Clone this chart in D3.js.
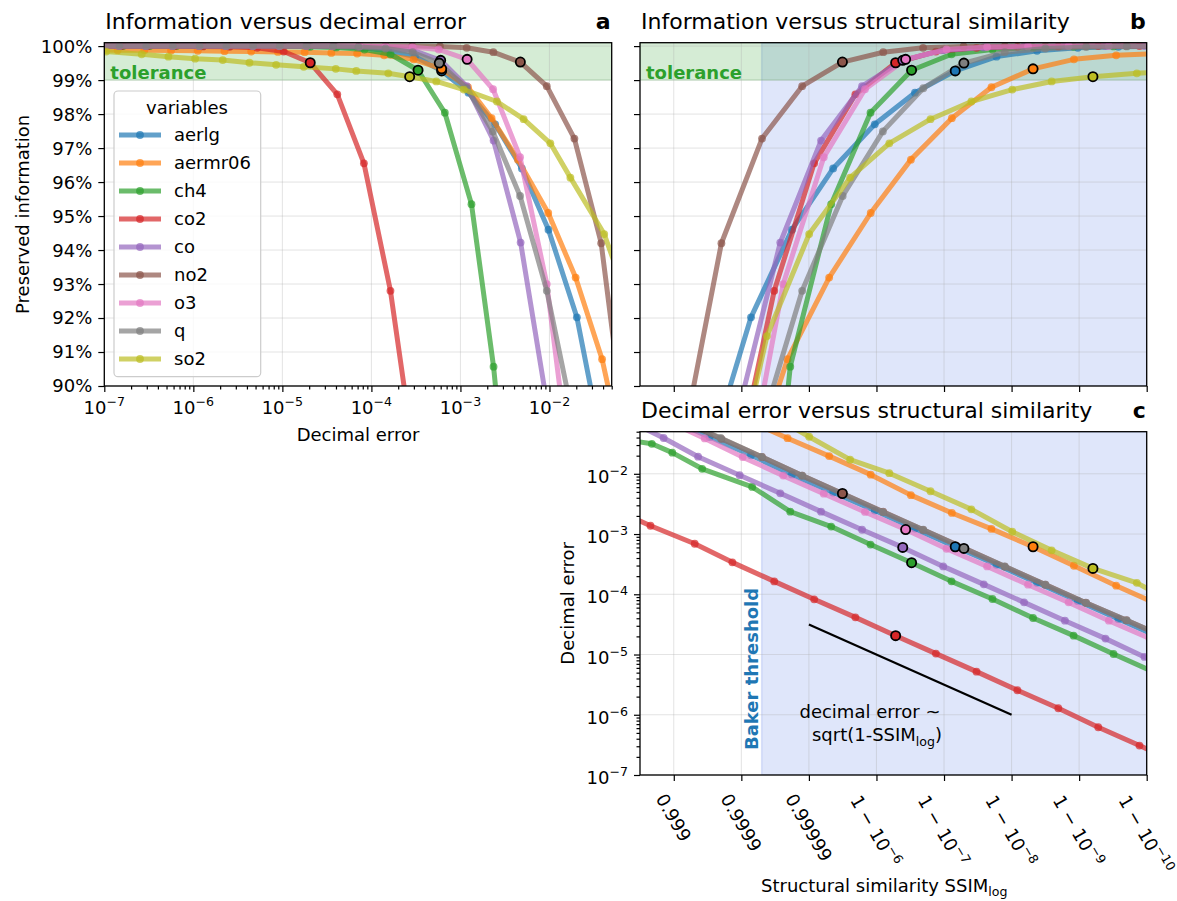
<!DOCTYPE html>
<html><head><meta charset="utf-8">
<script src="https://cdn.jsdelivr.net/npm/d3@7"></script>
<style>
body{margin:0;background:#fff;}
svg{font-family:"DejaVu Sans",sans-serif;}
</style></head><body>
<svg id="chart" width="1177" height="901"></svg>
<script>
// ---------------- data ----------------
const variables = ["aerlg","aermr06","ch4","co2","co","no2","o3","q","so2"];
const colors = ["#1f77b4","#ff7f0e","#2ca02c","#d62728","#9467bd","#8c564b","#e377c2","#7f7f7f","#bcbd22"];

// log10(decimal error), number of nines of SSIM_log (= -log10(1-SSIM)), preserved information (%)
const errLog_aerlg   = [-1.09,-1.39,-1.692,-2.011,-2.31,-2.61,-2.91,-3.211,-3.51,-3.81,-4.11,-4.41,-4.71,-5.01,-5.31,-5.61,-5.91,-6.21,-6.51,-6.81,-7.11];
const nines_aerlg    = [2.92,3.53,4.143,4.749,5.359,5.975,6.57,7.166,7.777,8.377,8.98,9.58,10.18,10.78,11.38,11.98,12.58,13.18,13.78,14.38,14.98];
const info_aerlg     = [80.0,88.0,92.02,94.60,96.40,97.70,98.63,99.27,99.69,99.86,99.95,99.98,99.99,100,100,100,100,100,100,100,100];

const errLog_aermr06 = [-0.80,-1.10,-1.409,-1.706,-2.014,-2.354,-2.65,-2.915,-3.211,-3.526,-3.857,-4.16,-4.45,-4.75,-5.05,-5.35,-5.65,-5.95,-6.25,-6.55,-6.85,-7.15];
const nines_aermr06  = [3.45,4.07,4.684,5.30,5.915,6.51,7.116,7.702,8.318,8.923,9.548,10.15,10.75,11.35,11.95,12.55,13.15,13.75,14.35,14.95,15.55,16.15];
const info_aermr06   = [80.0,87.1,90.79,93.19,95.09,96.66,97.88,98.79,99.33,99.61,99.73,99.78,99.80,99.82,99.83,99.84,99.85,99.86,99.87,99.88,99.88,99.89];

const errLog_ch4     = [-1.44,-1.502,-1.649,-1.917,-2.218,-2.628,-2.876,-3.175,-3.476,-3.785,-4.078,-4.394,-4.687,-4.991,-5.29,-5.59,-5.89,-6.19,-6.49,-6.79,-7.09];
const nines_ch4      = [2.30,2.675,2.978,3.42,4.16,4.724,5.33,5.912,6.52,7.111,7.717,8.318,8.918,9.509,10.1,10.7,11.3,11.9,12.5,13.1,13.7];
const info_ch4       = [50.0,60.0,65.0,72.0,79.7,90.57,95.35,98.04,99.29,99.76,99.90,99.96,99.98,99.99,100,100,100,100,100,100,100];

const errLog_co2     = [-2.56,-2.862,-3.161,-3.470,-3.786,-4.084,-4.383,-4.687,-4.985,-5.284,-5.593,-5.892,-6.207,-6.511,-6.81,-7.11];
const nines_co2      = [2.05,2.655,3.310,3.867,4.487,5.078,5.688,6.284,6.880,7.481,8.086,8.692,9.283,9.893,10.49,11.09];
const info_co2       = [60.0,70.0,78.5,87.0,92.8,96.55,98.58,99.51,99.84,99.95,99.98,99.99,100,100,100,100];

const errLog_co      = [-1.10,-1.406,-1.716,-2.023,-2.324,-2.628,-2.929,-3.222,-3.537,-3.835,-4.134,-4.438,-4.736,-5.04,-5.34,-5.64,-5.94,-6.24,-6.54,-6.84,-7.14];
const nines_co       = [2.30,2.85,3.36,3.975,4.576,5.18,5.787,6.389,6.988,7.589,8.185,8.79,9.39,9.967,10.57,11.17,11.77,12.37,12.97,13.57,14.17];
const info_co        = [70.0,78.0,84.0,89.4,94.22,97.22,98.82,99.58,99.88,99.96,99.99,100,100,100,100,100,100,100,100,100,100];

const errLog_no2     = [-0.80,-1.12,-1.419,-1.72,-2.03,-2.327,-2.63,-2.93,-3.23,-3.54,-3.84,-4.14,-4.43,-4.73,-5.03,-5.33,-5.63,-5.93,-6.23,-6.53,-6.83,-7.13];
const nines_no2      = [2.50,3.10,3.705,4.306,4.90,5.496,6.10,6.69,7.29,7.90,8.50,9.10,9.70,10.30,10.90,11.50,12.10,12.70,13.30,13.90,14.50,15.10];
const info_no2       = [75.0,88.0,94.2,97.28,98.82,99.53,99.82,99.95,99.99,100,100,100,100,100,100,100,100,100,100,100,100,100];

const errLog_o3      = [-1.10,-1.412,-1.723,-2.03,-2.33,-2.633,-2.925,-3.244,-3.537,-3.841,-4.134,-4.438,-4.73,-5.03,-5.33,-5.63,-5.93,-6.23,-6.53,-6.83,-7.13];
const nines_o3       = [2.86,3.458,4.02,4.62,5.22,5.83,6.432,7.037,7.638,8.244,8.845,9.44,10.04,10.64,11.24,11.84,12.44,13.04,13.64,14.24,14.84];
const info_o3        = [78.0,82.0,86.6,93.0,96.73,98.73,99.61,99.90,99.97,99.99,100,100,100,100,100,100,100,100,100,100,100];

const errLog_q       = [-1.10,-1.406,-1.718,-2.03,-2.33,-2.636,-2.929,-3.238,-3.537,-3.841,-4.145,-4.432,-4.73,-5.03,-5.33,-5.63,-5.93,-6.23,-6.53,-6.83,-7.13];
const nines_q        = [3.09,3.694,4.30,4.90,5.50,6.095,6.693,7.294,7.899,8.50,9.105,9.706,10.31,10.91,11.51,12.11,12.71,13.31,13.91,14.51,15.11];
const info_q         = [78.0,83.0,88.84,92.80,95.59,97.49,98.76,99.50,99.82,99.93,99.97,99.99,100,100,100,100,100,100,100,100,100];

const errLog_so2     = [-0.60,-0.98,-1.385,-1.765,-1.99,-2.29,-2.59,-2.962,-3.271,-3.570,-3.81,-4.17,-4.40,-4.76,-5.07,-5.37,-5.67,-5.98,-6.28,-6.58,-6.98,-7.28];
const nines_so2      = [3.75,4.38,5.004,5.61,6.19,6.80,7.405,8.01,8.593,9.204,9.854,10.45,11.05,11.65,12.25,12.85,13.45,14.05,14.65,15.25,15.85,16.45];
const info_so2       = [86.0,91.47,94.47,96.13,97.14,97.85,98.37,98.72,98.96,99.10,99.20,99.27,99.33,99.39,99.45,99.51,99.59,99.63,99.69,99.76,99.84,99.88];

// index of the chosen (highlighted) point of each variable
const selectedIndex = [7,8,8,7,7,5,6,7,9];

const infoTicks = [90,91,92,93,94,95,96,97,98,99,100];
const errTicks = [1e-7,1e-6,1e-5,1e-4,1e-3,1e-2];
const errTickExp = ["−7","−6","−5","−4","−3","−2"];
const ssimTicks = [1e-3,1e-4,1e-5,1e-6,1e-7,1e-8,1e-9,1e-10]; // 1 - SSIM
const ssimTickMain = ["0.999","0.9999","0.99999","1 − 10","1 − 10","1 − 10","1 − 10","1 − 10"];
const ssimTickSup  = ["","","","−6","−7","−8","−9","−10"];
const bakerThreshold = 0.99995;
const toleranceInfo = 99;
const refLineSsim = [1e-5, 1e-8];      // 1 - SSIM
const refLineErr  = [3.16e-5, 1e-6];

const errLogs = [errLog_aerlg,errLog_aermr06,errLog_ch4,errLog_co2,errLog_co,errLog_no2,errLog_o3,errLog_q,errLog_so2];
const ninesAll = [nines_aerlg,nines_aermr06,nines_ch4,nines_co2,nines_co,nines_no2,nines_o3,nines_q,nines_so2];
const infos = [info_aerlg,info_aermr06,info_ch4,info_co2,info_co,info_no2,info_o3,info_q,info_so2];

const series = variables.map((v,i)=>({
  name:v, color:colors[i], sel:selectedIndex[i],
  pts: errLogs[i].map((le,j)=>({err:Math.pow(10,le), oms:Math.pow(10,-ninesAll[i][j]), info:infos[i][j]}))
}));

// ---------------- layout ----------------
const svg = d3.select("#chart");
const A = {l:104.3, r:611.7, t:42.7, b:386};
const B = {l:640, r:1146.7, t:42.7, b:386};
const C = {l:640, r:1146.7, t:431.7, b:775};
const FS = 18, TFS = 22;

const xErr = d3.scaleLog().domain([1e-7, 0.05]).range([A.l, A.r]);
const yInfo = d3.scaleLinear().domain([90, 100.1]).range([A.b, A.t]);
const xSsim = d3.scaleLog().domain([Math.pow(10,-2.5), 1e-10]).range([B.l, B.r]);
const yErr = d3.scaleLog().domain([1e-7, 0.05]).range([C.b, C.t]);

const defs = svg.append("defs");
[["clipA",A],["clipB",B],["clipC",C]].forEach(([id,P])=>{
  defs.append("clipPath").attr("id",id).append("rect")
    .attr("x",P.l).attr("y",P.t).attr("width",P.r-P.l).attr("height",P.b-P.t);
});

const LW = 5, R = 3.9, OP = 0.7;

function panel(P, clipId, xs, ys, xKey, yKey, opts){
  const g = svg.append("g");
  const bg = g.append("g").attr("clip-path",`url(#${clipId})`);
  if(opts.blue){
    const bx = xs(1-bakerThreshold);
    bg.append("rect").attr("x",bx).attr("y",P.t).attr("width",P.r-bx).attr("height",P.b-P.t)
      .attr("fill","rgb(65,105,225)").attr("fill-opacity",0.17)
      .attr("stroke","rgb(65,105,225)").attr("stroke-opacity",0.17).attr("stroke-width",1.5);
  }
  if(opts.green){
    const gy = ys(toleranceInfo);
    bg.append("rect").attr("x",P.l).attr("y",P.t-2).attr("width",P.r-P.l).attr("height",gy-P.t+2)
      .attr("fill","#2ca02c").attr("fill-opacity",0.2)
      .attr("stroke","#2ca02c").attr("stroke-opacity",0.2).attr("stroke-width",1.2);
  }
  // grid
  const grid = g.append("g").attr("stroke","#b0b0b0").attr("stroke-opacity",0.35).attr("stroke-width",1);
  opts.xGrid.forEach(v=>grid.append("line").attr("x1",xs(v)).attr("x2",xs(v)).attr("y1",P.t).attr("y2",P.b));
  opts.yGrid.forEach(v=>grid.append("line").attr("y1",ys(v)).attr("y2",ys(v)).attr("x1",P.l).attr("x2",P.r));
  if(opts.extra) opts.extra(g);
  // data
  const dg = g.append("g").attr("clip-path",`url(#${clipId})`);
  const line = d3.line().x(d=>xs(d[xKey])).y(d=>ys(d[yKey]));
  series.forEach(s=>{
    dg.append("path").datum(s.pts).attr("d",line).attr("fill","none")
      .attr("stroke",s.color).attr("stroke-width",LW).attr("stroke-opacity",OP)
      .attr("stroke-linejoin","round");
    dg.selectAll(null).data(s.pts).enter().append("circle")
      .attr("cx",d=>xs(d[xKey])).attr("cy",d=>ys(d[yKey])).attr("r",R)
      .attr("fill",s.color).attr("fill-opacity",OP);
  });
  series.forEach(s=>{
    const d = s.pts[s.sel];
    dg.append("circle").attr("cx",xs(d[xKey])).attr("cy",ys(d[yKey])).attr("r",4.6)
      .attr("fill",s.color).attr("stroke","#000").attr("stroke-width",1.8);
  });
  // frame
  g.append("rect").attr("x",P.l).attr("y",P.t).attr("width",P.r-P.l).attr("height",P.b-P.t)
    .attr("fill","none").attr("stroke","#000").attr("stroke-width",1.3);
  return g;
}

function styleAxis(sel){
  sel.select(".domain").remove();
  sel.selectAll(".tick line").attr("stroke","#000").attr("stroke-width",1.2);
  sel.selectAll(".tick text").remove();
}
function minorLog(scale){
  const maj = new Set(scale.ticks().filter(v=>Math.abs(Math.log10(v)-Math.round(Math.log10(v)))<1e-9).map(v=>v.toExponential(3)));
  return scale.ticks().filter(v=>!maj.has(v.toExponential(3)));
}

// ---------------- panel a ----------------
const gA = panel(A,"clipA",xErr,yInfo,"err","info",{green:true,xGrid:errTicks,yGrid:infoTicks});
styleAxis(svg.append("g").attr("transform",`translate(0,${A.b})`).call(d3.axisBottom(xErr).tickValues(errTicks).tickSize(6).tickFormat("")));
styleAxis(svg.append("g").attr("transform",`translate(0,${A.b})`).call(d3.axisBottom(xErr).tickValues(minorLog(xErr)).tickSize(3.5).tickFormat("")));
styleAxis(svg.append("g").attr("transform",`translate(${A.l},0)`).call(d3.axisLeft(yInfo).tickValues(infoTicks).tickSize(6).tickFormat("")));

// ---------------- panel b ----------------
const gB = panel(B,"clipB",xSsim,yInfo,"oms","info",{green:true,blue:true,xGrid:ssimTicks,yGrid:infoTicks});
styleAxis(svg.append("g").attr("transform",`translate(0,${B.b})`).call(d3.axisBottom(xSsim).tickValues(ssimTicks).tickSize(6).tickFormat("")));
styleAxis(svg.append("g").attr("transform",`translate(${B.l},0)`).call(d3.axisLeft(yInfo).tickValues(infoTicks).tickSize(6).tickFormat("")));

// ---------------- panel c ----------------
const gC = panel(C,"clipC",xSsim,yErr,"oms","err",{blue:true,xGrid:ssimTicks,yGrid:errTicks,
  extra:(g)=>{
    const cg = g.append("g").attr("clip-path","url(#clipC)");
    cg.append("line").attr("x1",xSsim(refLineSsim[0])).attr("y1",yErr(refLineErr[0]))
      .attr("x2",xSsim(refLineSsim[1])).attr("y2",yErr(refLineErr[1]))
      .attr("stroke","#000").attr("stroke-width",2.2);
  }});
styleAxis(svg.append("g").attr("transform",`translate(0,${C.b})`).call(d3.axisBottom(xSsim).tickValues(ssimTicks).tickSize(6).tickFormat("")));
styleAxis(svg.append("g").attr("transform",`translate(${C.l},0)`).call(d3.axisLeft(yErr).tickValues(errTicks).tickSize(6).tickFormat("")));
styleAxis(svg.append("g").attr("transform",`translate(${C.l},0)`).call(d3.axisLeft(yErr).tickValues(minorLog(yErr)).tickSize(3.5).tickFormat("")));

// ---------------- text ----------------
const T = svg.append("g").attr("font-size",FS).attr("fill","#000");

function supText(parent, x, y, main, sup, anchor){
  const t = parent.append("text").attr("x",x).attr("y",y).attr("text-anchor",anchor);
  t.append("tspan").text(main);
  if(sup) t.append("tspan").attr("font-size",FS*0.7).attr("dy",-8).text(sup);
  return t;
}
// panel a x tick labels
errTicks.forEach((v,i)=>supText(T, xErr(v), 414, "10", errTickExp[i], "middle"));
// panel a y tick labels
infoTicks.forEach(v=>T.append("text").attr("x",A.l-12).attr("y",yInfo(v)).attr("dy","0.36em")
  .attr("text-anchor","end").text(v+"%"));
// panel c y tick labels
errTicks.forEach((v,i)=>supText(T, C.l-12, yErr(v)+9, "10", errTickExp[i], "end"));
// panel c x tick labels (rotated)
ssimTicks.forEach((v,i)=>{
  const t = T.append("text").attr("text-anchor","middle").attr("x",0).attr("y",0);
  t.append("tspan").text(ssimTickMain[i]);
  if(ssimTickSup[i]) t.append("tspan").attr("font-size",FS*0.7).attr("dy",-8).text(ssimTickSup[i]);
  const bb = t.node().getBBox();
  const cx = bb.x+bb.width/2, cy = bb.y+bb.height/2;
  const th = Math.PI/3;
  const H = bb.width*Math.sin(th)+bb.height*Math.cos(th);
  t.attr("transform",`translate(${xSsim(v)},${C.b+15+H/2}) rotate(60) translate(${-cx},${-cy})`);
});

// axis labels
T.append("text").attr("x",(A.l+A.r)/2).attr("y",441).attr("text-anchor","middle").text("Decimal error");
T.append("text").attr("transform",`translate(29,${(A.t+A.b)/2}) rotate(-90)`).attr("text-anchor","middle").text("Preserved information");
T.append("text").attr("transform",`translate(574,${(C.t+C.b)/2}) rotate(-90)`).attr("text-anchor","middle").text("Decimal error");
const xl = T.append("text").attr("x",761).attr("y",892).attr("text-anchor","start");
xl.append("tspan").text("Structural similarity SSIM");
xl.append("tspan").attr("font-size",FS*0.7).attr("dy",4).text("log");

// titles
const titles = [[A,"Information versus decimal error","a",29],[B,"Information versus structural similarity","b",29],[C,"Decimal error versus structural similarity","c",418]];
titles.forEach(([P,txt,lab,y])=>{
  T.append("text").attr("x",P.l+1).attr("y",y).attr("font-size",TFS).text(txt);
  T.append("text").attr("x",P.r-1).attr("y",y).attr("font-size",TFS).attr("font-weight","bold").attr("text-anchor","end").text(lab);
});

// tolerance labels
[A,B].forEach(P=>T.append("text").attr("x",P.l+6).attr("y",78.5).attr("font-weight","bold")
  .attr("fill","#2ca02c").text("tolerance"));
// Baker threshold label
T.append("text").attr("transform",`translate(757.5,750) rotate(-90)`).attr("font-weight","bold")
  .attr("fill","#1f77b4").attr("text-anchor","start").text("Baker threshold");
// reference-line annotation
T.append("text").attr("x",870).attr("y",718).attr("text-anchor","middle").text("decimal error ~");
const an = T.append("text").attr("x",877).attr("y",741).attr("text-anchor","middle");
an.append("tspan").text("sqrt(1-SSIM");
an.append("tspan").attr("font-size",FS*0.7).attr("dy",4.5).text("log");
an.append("tspan").attr("dy",-4.5).text(")");

// ---------------- legend ----------------
const L = svg.append("g");
L.append("rect").attr("x",114).attr("y",91).attr("width",146.7).attr("height",285.7).attr("rx",4)
  .attr("fill","#fff").attr("fill-opacity",0.8).attr("stroke","#cccccc").attr("stroke-width",1.2);
L.append("text").attr("x",187).attr("y",114).attr("text-anchor","middle").attr("font-size",FS).text("variables");
series.forEach((s,i)=>{
  const y = 135+i*28;
  L.append("line").attr("x1",119).attr("x2",161).attr("y1",y).attr("y2",y)
    .attr("stroke",s.color).attr("stroke-width",LW).attr("stroke-opacity",OP);
  L.append("circle").attr("cx",140).attr("cy",y).attr("r",R).attr("fill",s.color).attr("fill-opacity",OP);
  L.append("text").attr("x",174).attr("y",y).attr("dy","0.36em").attr("font-size",FS).text(s.name);
});
</script>
</body></html>
